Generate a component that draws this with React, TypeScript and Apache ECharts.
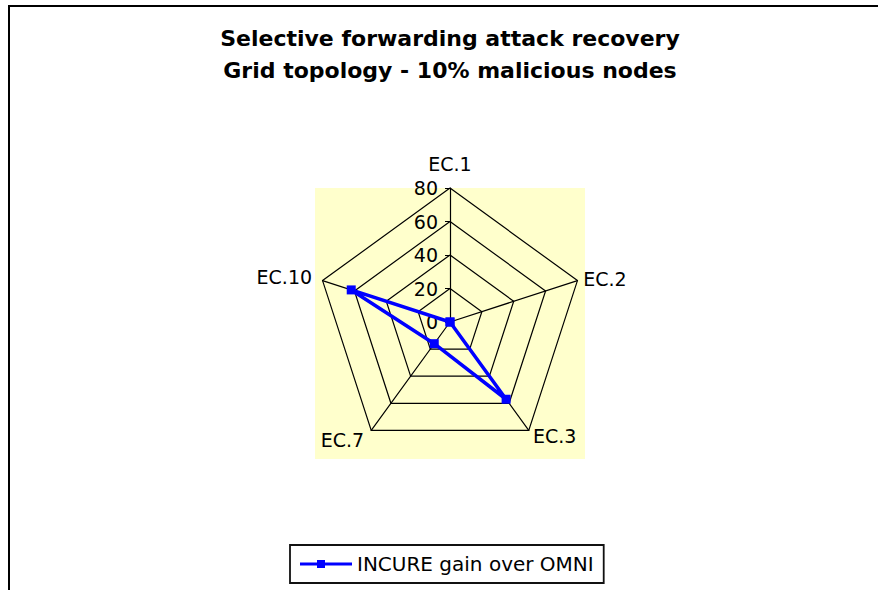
import React, { useEffect, useRef } from "react";
import * as echarts from "echarts";

const titleLines = ["Selective forwarding attack recovery", "Grid topology - 10% malicious nodes"];
const axisNames = ["EC.1", "EC.2", "EC.3", "EC.7", "EC.10"];
const seriesName = "INCURE gain over OMNI";
const gainValues = [0, 0, 57, 16, 62];
const axisMin = 0;
const axisMax = 80;
const splitCount = 4;
// per-axis gap between the outer vertex and the axis name
const nameGaps = [15, 6, 7, 12, 11];

export default function App() {
  const ref = useRef<HTMLDivElement>(null);

  useEffect(() => {
    if (!ref.current) return;
    const chart = echarts.init(ref.current, null, { renderer: "svg" });

    // ECharts lays radar axes counter-clockwise; the reference runs clockwise
    const order = [0, ...axisNames.map((_, i) => i).slice(1).reverse()];

    const indicator = order.map((i) => {
      const ind: any = {
        name: axisNames[i],
        min: axisMin,
        max: axisMax,
        nameGap: nameGaps[i],
      };
      if (i === 0) {
        ind.axisLabel = { show: true };
        ind.axisTick = { show: true };
      }
      return ind;
    });

    const font = "'DejaVu Sans', sans-serif";

    chart.setOption({
      animation: false,
      backgroundColor: "#ffffff",
      title: {
        text: titleLines.join("\n"),
        left: 450,
        top: 22,
        padding: 0,
        textAlign: "center",
        textStyle: {
          fontFamily: font,
          fontSize: 22,
          fontWeight: "bold",
          color: "#000000",
          lineHeight: 32,
        },
      },
      graphic: [
        {
          type: "rect",
          z: -10,
          silent: true,
          shape: { x: 9, y: 6, width: 1000, height: 1000 },
          style: { fill: "none", stroke: "#000000", lineWidth: 2 },
        },
        {
          type: "rect",
          z: -10,
          silent: true,
          shape: { x: 315, y: 188, width: 270, height: 271 },
          style: { fill: "#FFFFCC", stroke: "none" },
        },
      ],
      legend: {
        left: 290,
        top: 545,
        padding: [9, 10, 9, 10],
        borderColor: "#111111",
        borderWidth: 1.8,
        itemWidth: 52,
        itemHeight: 8,
        itemGap: 5,
        icon: "path://M0,2.5H52V5.5H0Z M17,0H25V8H17Z",
        textStyle: { fontFamily: font, fontSize: 20, color: "#000000" },
        data: [seriesName],
      },
      radar: {
        center: [450, 322],
        radius: 134,
        shape: "polygon",
        splitNumber: splitCount,
        indicator,
        axisName: {
          color: "#000000",
          fontFamily: font,
          fontSize: 19,
        },
        axisLine: { show: true, lineStyle: { color: "#000000", width: 1.2 } },
        splitLine: { show: true, lineStyle: { color: "#000000", width: 1.2 } },
        splitArea: { show: false },
        axisTick: { show: false, length: 5, lineStyle: { color: "#000000", width: 1 } },
        axisLabel: {
          show: false,
          color: "#000000",
          fontFamily: font,
          fontSize: 19,
          margin: 12,
        },
      },
      series: [
        {
          type: "radar",
          name: seriesName,
          symbol: "rect",
          symbolSize: 9,
          lineStyle: { color: "#0000FF", width: 3.5 },
          itemStyle: { color: "#0000FF" },
          data: [
            {
              name: seriesName,
              value: order.map((i) => gainValues[i]),
            },
          ],
        },
      ],
    });

    return () => chart.dispose();
  }, []);

  return (
    <div
      ref={ref}
      style={{ position: "absolute", left: 0, top: 0, width: 878, height: 590 }}
    />
  );
}
